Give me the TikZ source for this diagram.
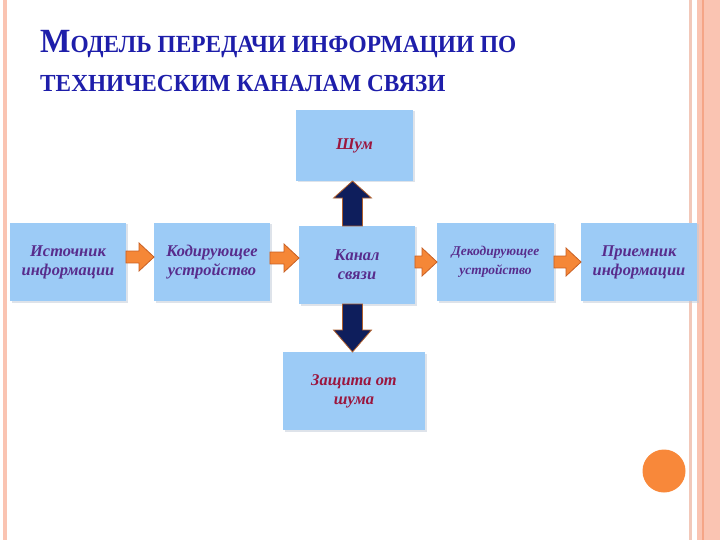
\documentclass[tikz,border=0pt]{standalone}
\usepackage{fontspec}
\setmainfont{Liberation Serif}
\newfontfamily\titlefont[FakeStretch=0.95]{Liberation Serif}
\usetikzlibrary{calc}
\definecolor{boxblue}{RGB}{156,203,246}
\definecolor{boxshadow}{RGB}{190,200,215}
\definecolor{txtpurple}{RGB}{88,44,140}
\definecolor{txtred}{RGB}{155,22,62}
\definecolor{titleblue}{RGB}{30,30,170}
\definecolor{arrorange}{RGB}{245,135,55}
\definecolor{arredge}{RGB}{200,95,35}
\definecolor{navy}{RGB}{14,30,92}
\definecolor{navyedge}{RGB}{175,95,45}
\definecolor{dotorange}{RGB}{248,136,58}
\definecolor{stripe}{RGB}{250,196,178}
\definecolor{stripedark}{RGB}{245,165,135}
\definecolor{stripepale}{RGB}{242,200,185}
\tikzset{
  box/.style={fill=boxblue, inner sep=0pt, align=center,
    font=\bfseries\itshape\fontsize{16.5}{19}\selectfont, text=txtpurple},
  redtext/.style={text=txtred},
  smalltext/.style={font=\bfseries\itshape\fontsize{13.5}{19}\selectfont},
  shadowbox/.style={fill=boxshadow, opacity=0.5},
  harrow/.style={fill=arrorange, draw=arredge, line width=0.8pt, line join=miter},
  varrow/.style={fill=navy, draw=navyedge, line width=0.8pt, line join=miter},
  titletext/.style={anchor=base west, inner sep=0pt, text=titleblue, font=\titlefont\bfseries}
}
\newcommand{\mkbox}[7]{% options, name, x1, y1, x2, y2, text
  \fill[shadowbox] (#3+1.5,#4+1.5) rectangle (#5+1.5,#6+1.5);
  \node[box, #1, minimum width=#5-#3, minimum height=#6-#4] (#2) at ({(#3+#5)/2},{(#4+#6)/2}) {#7};
}
% horizontal block arrow from node A east to node B west, vertical offset dy (px, down positive)
\newcommand{\harr}[3]{%
  \draw[harrow] let \p1=(#1.east), \p2=(#2.west) in
    (\x1,\y1-#3pt+6pt) -- (\x2-15pt,\y1-#3pt+6pt) -- (\x2-15pt,\y1-#3pt+14pt) --
    (\x2,\y1-#3pt) -- (\x2-15pt,\y1-#3pt-14pt) -- (\x2-15pt,\y1-#3pt-6pt) --
    (\x1,\y1-#3pt-6pt) -- cycle;
}
\begin{document}
\begin{tikzpicture}[x=1bp,y=-1bp]
\useasboundingbox (0,0) rectangle (720,540);
\fill[white] (0,0) rectangle (720,540);
% borders
\fill[stripe] (3,0) rectangle (7,540);
\fill[stripepale] (689,0) rectangle (692,540);
\fill[stripe] (697,0) rectangle (720,540);
\draw[stripedark, line width=1.5bp] (703,0) -- (703,540);
% title
\node[titletext] (t1) at (40,53) {{\fontsize{34}{34}\selectfont М}{\fontsize{24.7}{24.7}\selectfont ОДЕЛЬ ПЕРЕДАЧИ ИНФОРМАЦИИ ПО}};
\node[titletext] (t2) at (40,92) {\fontsize{24.6}{24.6}\selectfont ТЕХНИЧЕСКИМ КАНАЛАМ СВЯЗИ};
% boxes
\mkbox{redtext}{noise}{296}{110}{413}{181}{Шум}
\mkbox{}{src}{10}{223}{126}{301}{Источник\\информации}
\mkbox{}{enc}{154}{223}{270}{301}{Кодирующее\\устройство}
\mkbox{}{chan}{299}{226}{415}{304}{Канал\\связи}
\mkbox{smalltext}{dec}{437}{223}{554}{301}{Декодирующее\\устройство}
\mkbox{}{rcv}{581}{223}{697}{301}{Приемник\\информации}
\mkbox{redtext}{prot}{283}{352}{425}{430}{Защита от\\шума}
% orange arrows
\harr{src}{enc}{-5}
\harr{enc}{chan}{-4}
\harr{chan}{dec}{-3}
\harr{dec}{rcv}{0}
% navy arrows
\draw[varrow] let \p1=(chan.north), \p2=(noise.south) in
  (\x1-14.5pt,\y1) -- (\x1-14.5pt,\y2-17pt) -- (\x1-23.5pt,\y2-17pt) -- (\x1-4.5pt,\y2) --
  (\x1+14.5pt,\y2-17pt) -- (\x1+5.5pt,\y2-17pt) -- (\x1+5.5pt,\y1) -- cycle;
\draw[varrow] let \p1=(chan.south), \p2=(prot.north) in
  (\x1-14.5pt,\y1) -- (\x1-14.5pt,\y2+22pt) -- (\x1-23.5pt,\y2+22pt) -- (\x1-4.5pt,\y2) --
  (\x1+14.5pt,\y2+22pt) -- (\x1+5.5pt,\y2+22pt) -- (\x1+5.5pt,\y1) -- cycle;
% dot
\fill[dotorange] (664,471) circle (21.5);
\end{tikzpicture}
\end{document}
